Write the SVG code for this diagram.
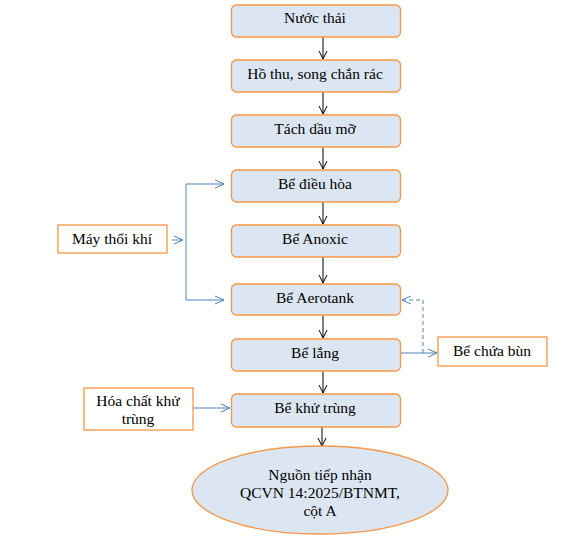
<svg xmlns="http://www.w3.org/2000/svg" width="582" height="541" viewBox="0 0 582 541">
<style>
.main{fill:#dce6f2;stroke:#f79646;stroke-width:1.3}
.side{fill:#ffffff;stroke:#f79646;stroke-width:1.3}
text{font-family:"Liberation Serif","DejaVu Serif",serif;font-size:15.5px;fill:#000;text-anchor:middle}
.k{stroke:#000;stroke-width:1;fill:none}
.b{stroke:#4f81bd;stroke-width:1;fill:none}
.d{stroke:#4f81bd;stroke-width:1;fill:none;stroke-dasharray:4,3}
</style>
<defs>
<marker id="ak" markerWidth="10" markerHeight="10" refX="9" refY="5" orient="auto" markerUnits="userSpaceOnUse"><path d="M1,1 L9,5 L1,9" fill="none" stroke="#000" stroke-width="1"/></marker>
<marker id="ab" markerWidth="12" markerHeight="10" refX="10" refY="5" orient="auto" markerUnits="userSpaceOnUse"><path d="M1,1 L10,5 L1,9" fill="none" stroke="#4f81bd" stroke-width="1"/></marker>
</defs>
<g id="connectors">
<path class="k" d="M323,37 V59" marker-end="url(#ak)"/>
<path class="k" d="M323,92 V114" marker-end="url(#ak)"/>
<path class="k" d="M323,147 V169" marker-end="url(#ak)"/>
<path class="k" d="M323,202 V224" marker-end="url(#ak)"/>
<path class="k" d="M323,257 V283" marker-end="url(#ak)"/>
<path class="k" d="M323,316 V338" marker-end="url(#ak)"/>
<path class="k" d="M323,371 V393" marker-end="url(#ak)"/>
<path class="k" d="M322,427 V446" marker-end="url(#ak)"/>
<path class="b" d="M172,240 H183" marker-end="url(#ab)"/>
<path class="b" d="M186,184 V300"/>
<path class="b" d="M186,184 H224" marker-end="url(#ab)"/>
<path class="b" d="M186,300 H224" marker-end="url(#ab)"/>
<path class="b" d="M400,353 H437" marker-end="url(#ab)"/>
<path class="d" d="M423,353 V300 H402" marker-end="url(#ab)"/>
<path class="b" d="M193,408 H230" marker-end="url(#ab)"/>
</g>
<g id="n1"><rect class="main" x="231.5" y="5" width="169" height="32" rx="5"/><text x="315" y="23">Nước thải</text></g>
<g id="n2"><rect class="main" x="231.5" y="60" width="169" height="32" rx="5"/><text x="315" y="79">Hồ thu, song chắn rác</text></g>
<g id="n3"><rect class="main" x="231.5" y="115" width="169" height="32" rx="5"/><text x="315" y="134">Tách dầu mỡ</text></g>
<g id="n4"><rect class="main" x="231.5" y="170" width="169" height="32" rx="5"/><text x="315" y="189">Bể điều hòa</text></g>
<g id="n5"><rect class="main" x="231.5" y="225" width="169" height="32" rx="5"/><text x="315" y="244">Bể Anoxic</text></g>
<g id="n6"><rect class="main" x="231.5" y="284" width="169" height="31" rx="5"/><text x="315" y="303">Bể Aerotank</text></g>
<g id="n7"><rect class="main" x="231.5" y="339" width="169" height="32" rx="5"/><text x="315" y="358">Bể lắng</text></g>
<g id="n8"><rect class="main" x="231.5" y="394" width="169" height="33" rx="5"/><text x="315" y="413">Bể khử trùng</text></g>
<g id="n9"><rect class="side" x="58" y="225" width="109" height="28"/><text x="112" y="244">Máy thổi khí</text></g>
<g id="n10"><rect class="side" x="438" y="337" width="109" height="29"/><text x="492" y="356">Bể chứa bùn</text></g>
<g id="n11"><rect class="side" x="84" y="388" width="109" height="42"/><text x="138" y="406">Hóa chất khử</text><text x="138" y="424">trùng</text></g>
<g id="n12"><ellipse class="main" cx="320" cy="490" rx="128" ry="44"/><text x="320" y="480">Nguồn tiếp nhận</text><text x="320" y="498">QCVN 14:2025/BTNMT,</text><text x="320" y="516">cột A</text></g>
</svg>
